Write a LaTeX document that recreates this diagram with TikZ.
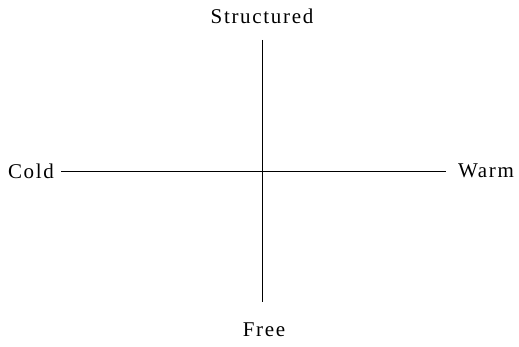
\documentclass[tikz,border=0pt]{standalone}
\usepackage{fontspec}
\setmainfont{Liberation Serif}[LetterSpace=8]
\tikzset{
  lbl/.style={inner sep=0pt, font=\fontsize{21}{25}\selectfont},
  axis/.style={line width=1pt, black}
}
\begin{document}
\begin{tikzpicture}[x=1pt,y=1pt]
\useasboundingbox (0,0) rectangle (519,346);
\node[lbl] (structured) at (262,330) {Structured};
\node[lbl] (free) at (264,16) {Free};
\node[lbl] (cold) at (31,175) {Cold};
\node[lbl] (warm) at (486,175) {Warm};
\coordinate (top) at (262,306);
\coordinate (bottom) at (262,44);
\coordinate (left) at (61,175);
\coordinate (right) at (446,175);
\draw[axis] (top) -- (bottom);
\draw[axis] (left) -- (right);
\end{tikzpicture}
\end{document}
